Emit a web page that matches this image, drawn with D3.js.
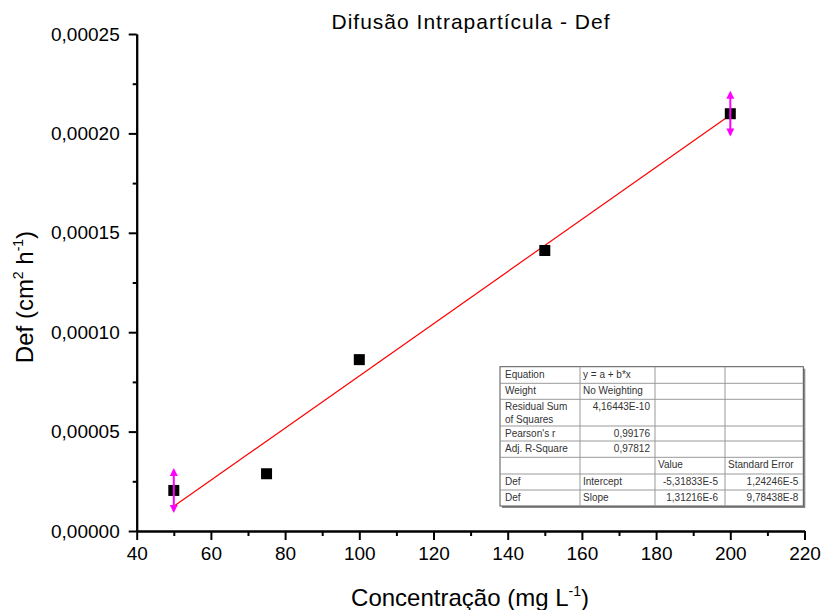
<!DOCTYPE html>
<html lang="pt">
<head>
<meta charset="UTF-8">
<title>Difusão Intrapartícula - Def</title>
<script src="https://d3js.org/d3.v7.min.js"></script>
<style>
    body{margin:0;background:#fff;}
    svg{display:block;font-family:Arial,"Liberation Sans",sans-serif;}
</style>
</head>
<body>
<svg width="821" height="610"></svg>
<script>
    // data
    const concentracao = [50, 75, 100, 150, 200]
    const defValues = [2.04e-5, 2.88e-5, 8.62e-5, 1.411e-4, 2.099e-4]
    const defErrors = [1.13e-5, 0, 0, 0, 1.15e-5]
    // linear fit y = a + b*x (from the table)
    const fitIntercept = -5.31833e-5
    const fitSlope = 1.31216e-6
    const fitRange = [50, 200]

    const xTicks = d3.range(40, 221, 20)
    const xMinor = d3.range(50, 220, 20)
    const yTicks = [0, 0.00005, 0.0001, 0.00015, 0.0002, 0.00025]
    const yMinor = [0.000025, 0.000075, 0.000125, 0.000175, 0.000225]

    const tableRows = [
        ["Equation", "y = a + b*x", "", ""],
        ["Weight", "No Weighting", "", ""],
        ["Residual Sum|of Squares", "4,16443E-10", "", ""],
        ["Pearson's r", "0,99176", "", ""],
        ["Adj. R-Square", "0,97812", "", ""],
        ["", "", "Value", "Standard Error"],
        ["Def", "Intercept", "-5,31833E-5", "1,24246E-5"],
        ["Def", "Slope", "1,31216E-6", "9,78438E-8"]
    ]

    const svg = d3.select("svg")
    const xScale = d3.scaleLinear().domain([40, 220]).range([136.7, 804.5])
    const yScale = d3.scaleLinear().domain([0, 0.00025]).range([531, 34])

    const ptBR = d3.formatLocale({decimal: ",", thousands: ".", grouping: [3], currency: ["", ""]})
    const yFmt = ptBR.format(".5f")

    // title
    svg.append("text")
        .attr("x", 471).attr("y", 29)
        .attr("text-anchor", "middle")
        .attr("font-size", 21)
        .attr("letter-spacing", 1)
        .text("Difusão Intrapartícula - Def")

    // axes
    svg.append("g").attr("transform", "translate(0,531)")
        .call(d3.axisBottom(xScale).tickValues(xTicks).tickSize(9).tickPadding(7).tickSizeOuter(0))
    svg.append("g").attr("transform", "translate(0,531)")
        .call(d3.axisBottom(xScale).tickValues(xMinor).tickSize(5).tickFormat("").tickSizeOuter(0))
    svg.append("g").attr("transform", "translate(136.7,0)")
        .call(d3.axisLeft(yScale).tickValues(yTicks).tickFormat(yFmt).tickSize(8).tickPadding(9).tickSizeOuter(0))
    svg.append("g").attr("transform", "translate(136.7,0)")
        .call(d3.axisLeft(yScale).tickValues(yMinor).tickSize(4).tickFormat("").tickSizeOuter(0))

    svg.selectAll(".domain").attr("stroke", "#000").attr("stroke-width", 2)
    svg.selectAll(".tick line").attr("stroke", "#000").attr("stroke-width", 2)
    svg.selectAll(".tick text").attr("font-size", 19).attr("font-family", "Arial, 'Liberation Sans', sans-serif").attr("fill", "#000")

    // axis titles
    const xt = svg.append("text")
        .attr("x", 470).attr("y", 606)
        .attr("text-anchor", "middle")
        .attr("font-size", 24)
    xt.append("tspan").text("Concentração (mg L")
    xt.append("tspan").attr("font-size", 14).attr("dy", -10).text("-1")
    xt.append("tspan").attr("dy", 10).text(")")

    const yt = svg.append("text")
        .attr("transform", "translate(33,297) rotate(-90)")
        .attr("text-anchor", "middle")
        .attr("font-size", 24)
    yt.append("tspan").text("Def (cm")
    yt.append("tspan").attr("font-size", 14).attr("dy", -10).text("2")
    yt.append("tspan").attr("dy", 10).text(" h")
    yt.append("tspan").attr("font-size", 14).attr("dy", -10).text("-1")
    yt.append("tspan").attr("dy", 10).text(")")

    // fit line
    const lineGen = d3.line().x(d => xScale(d)).y(d => yScale(fitIntercept + fitSlope * d))
    svg.append("path")
        .attr("d", lineGen(fitRange))
        .attr("fill", "none")
        .attr("stroke", "#ff0000")
        .attr("stroke-width", 1.2)

    // points
    const pts = concentracao.map((x, i) => ({x: x, y: defValues[i], e: defErrors[i]}))
    svg.append("g").selectAll("rect").data(pts).enter().append("rect")
        .attr("x", d => xScale(d.x) - 5.5)
        .attr("y", d => yScale(d.y) - 5.5)
        .attr("width", 11).attr("height", 11)
        .attr("fill", "#000")

    // error bars with arrow heads
    const errG = svg.append("g").selectAll("g").data(pts.filter(d => d.e > 0)).enter().append("g")
    errG.append("line")
        .attr("x1", d => xScale(d.x)).attr("x2", d => xScale(d.x))
        .attr("y1", d => yScale(d.y + d.e) + 2).attr("y2", d => yScale(d.y - d.e) - 2)
        .attr("stroke", "#ff00ff").attr("stroke-width", 2)
    errG.append("path")
        .attr("d", d => {
            const cx = xScale(d.x), t = yScale(d.y + d.e)
            return `M${cx},${t}L${cx - 4},${t + 8}L${cx + 4},${t + 8}Z`
        })
        .attr("fill", "#ff00ff")
    errG.append("path")
        .attr("d", d => {
            const cx = xScale(d.x), b = yScale(d.y - d.e)
            return `M${cx},${b}L${cx - 4},${b - 8}L${cx + 4},${b - 8}Z`
        })
        .attr("fill", "#ff00ff")

    // results table
    const colX = [500, 580, 655, 725, 803.3]
    const rowY = [366.7, 383.3, 399.3, 426, 441, 457.3, 474, 490, 506]
    const table = svg.append("g").attr("class", "table")
    table.append("rect")
        .attr("x", colX[0] + 2).attr("y", rowY[0] + 2)
        .attr("width", colX[4] - colX[0]).attr("height", rowY[8] - rowY[0])
        .attr("fill", "#888")
    table.append("rect")
        .attr("x", colX[0]).attr("y", rowY[0])
        .attr("width", colX[4] - colX[0]).attr("height", rowY[8] - rowY[0])
        .attr("fill", "#fff").attr("stroke", "#555").attr("stroke-width", 1)
    rowY.slice(1, -1).forEach(y => {
        table.append("line").attr("x1", colX[0]).attr("x2", colX[4]).attr("y1", y).attr("y2", y)
            .attr("stroke", "#999").attr("stroke-width", 1)
    })
    colX.slice(1, -1).forEach(x => {
        table.append("line").attr("x1", x).attr("x2", x).attr("y1", rowY[0]).attr("y2", rowY[8])
            .attr("stroke", "#999").attr("stroke-width", 1)
    })
    const isNum = s => /^-?\d/.test(s)
    tableRows.forEach((row, r) => {
        row.forEach((cell, c) => {
            if (!cell) return
            const right = isNum(cell)
            const padR = c === 2 ? 7 : 5
            const tx = right ? colX[c + 1] - padR : colX[c] + (c === 0 ? 5 : 3)
            const t = table.append("text")
                .attr("x", tx)
                .attr("y", rowY[r] + 11)
                .attr("text-anchor", right ? "end" : "start")
                .attr("font-size", 10)
                .attr("fill", "#333")
            cell.split("|").forEach((line, k) => {
                t.append("tspan").attr("x", tx)
                    .attr("dy", k === 0 ? 0 : 12.5).text(line)
            })
        })
    })
</script>
</body>
</html>
